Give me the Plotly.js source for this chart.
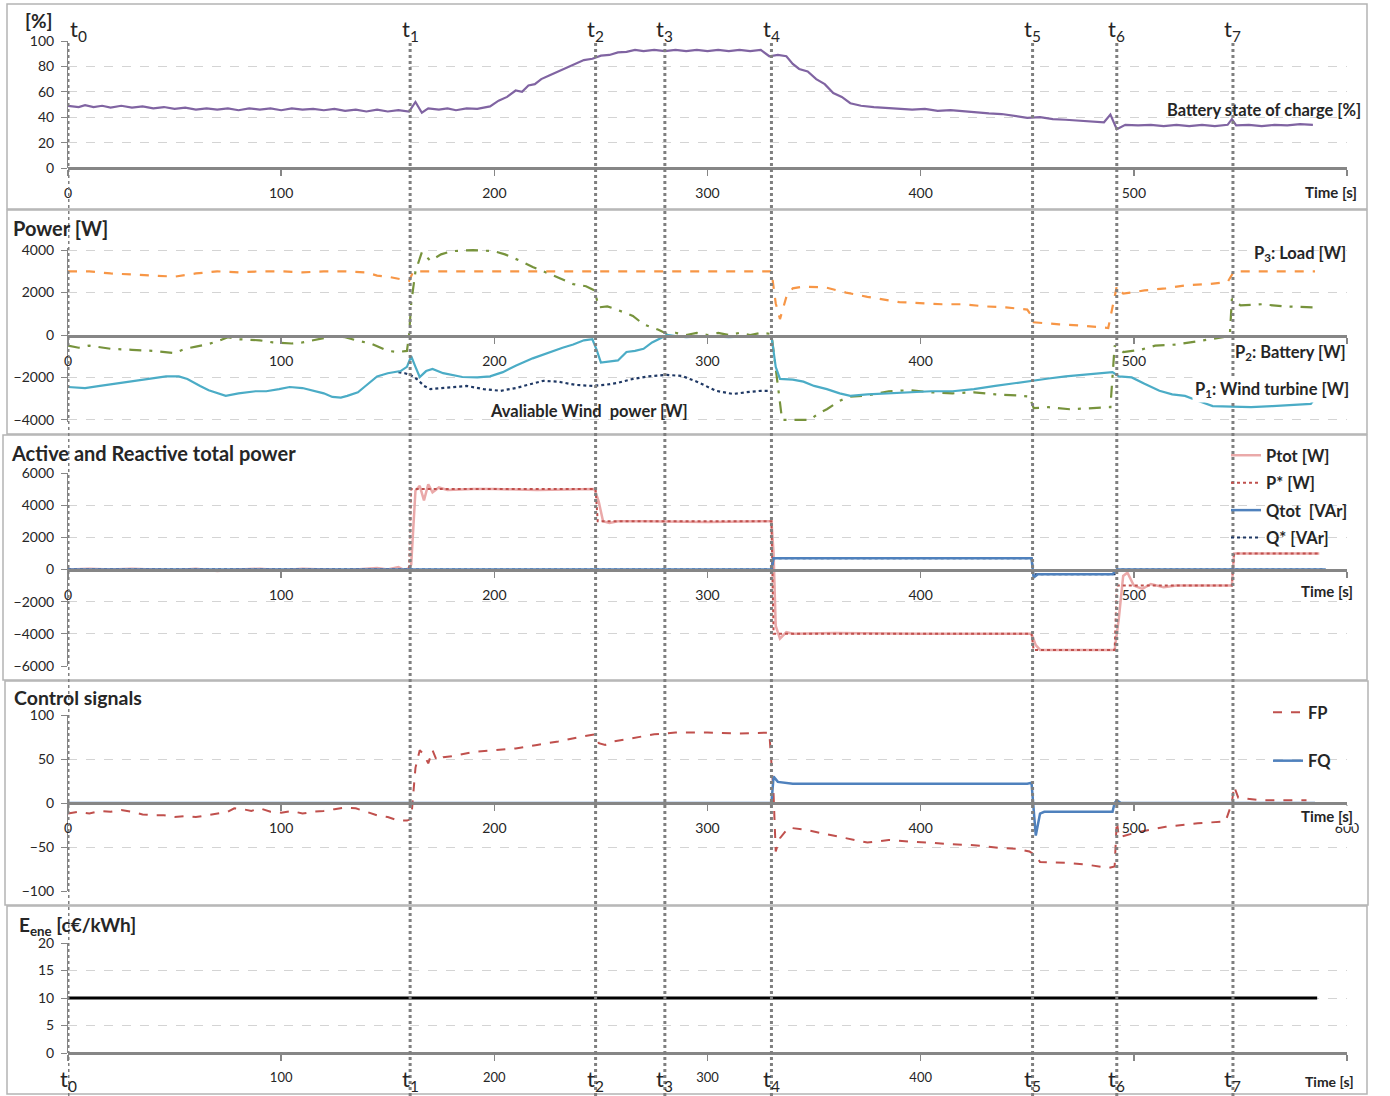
<!DOCTYPE html>
<html><head><meta charset="utf-8">
<script src="https://cdn.plot.ly/plotly-3.0.1.min.js"></script>
<style>body{margin:0;background:#fff}#chart{width:1390px;height:1096px}</style>
</head><body><div id="chart"></div>
<script>
// ---------- data ----------
const eventTimes = [0, 160.5, 247.5, 280, 330, 452.5, 492, 546.5];
const eventLabels = ['t<sub>0</sub>','t<sub>1</sub>','t<sub>2</sub>','t<sub>3</sub>','t<sub>4</sub>','t<sub>5</sub>','t<sub>6</sub>','t<sub>7</sub>'];

const socT = [0,5,8,12,16,20,25,30,35,40,45,50,55,60,65,70,75,80,85,90,95,100,105,110,115,120,125,130,135,140,145,150,155,160,163,166,169,174,178,182,187,192,198,202,206,210,213,216,219,222,226,230,234,238,242,246,250,254,258,262,266,270,275,280,285,290,295,300,305,310,315,320,325,329,333,337,340,343,347,351,355,359,363,367,372,378,384,390,396,402,408,414,420,426,432,438,444,450,456,462,468,474,480,486,489,492,496,502,508,514,520,526,532,538,544,546,548,554,560,566,572,578,584];
const socV = [49,48,49.5,48,49,47.5,49,47.5,48.5,47,48,46.5,47.5,46,47,46,47,45.5,47,46,47,45.5,47,46,46.5,45.5,46.5,45,46,44.5,46,44.5,45.5,44.5,52,43.5,47,46,47,45.5,47,46.5,48.5,53,56,61,60,65,66,70,73,76,79,82,85,86,88.5,89,91,91.5,93,92,93,92,93,92,93,92,93,92,93,92,93,88,89,88,82,78,76,70,66,59,56,51,49,48,47.5,47,46,46.5,45,45.5,44.5,44,43,42.5,41,39.5,40,38.5,38,37.5,37,36,42,30.5,34,33.5,34,33,34,33,34,33,34,38.5,33.5,34,33,34,33.5,34.5,34];

const loadT = [0,10,20,30,40,50,60,70,80,90,100,110,120,130,140,145,150,155,160,162,200,250,300,330,332,334,337,340,345,355,365,375,390,400,410,420,430,440,450,452,453,465,475,488,492,495,505,515,525,535,544,547,585];
const loadV = [3000,3000,2900,2850,2800,2750,2900,3000,2950,3000,3000,2950,3000,3000,2950,2800,2750,2650,2550,3000,3000,3000,3000,3000,1500,750,1800,2200,2280,2250,2000,1800,1550,1500,1450,1450,1350,1300,1200,900,600,500,450,330,2300,1950,2100,2200,2350,2400,2500,3000,3000];

const batT = [0,5,10,20,30,40,50,55,60,65,70,75,80,90,96,105,110,118,125,130,135,142,150,155,159,160,161,163,166,170,175,180,190,200,205,212,218,223,230,237,243,247,249,253,256,260,265,270,273,277,281,285,290,295,300,305,310,315,320,325,330,333,335,348,352,356,362,367,375,385,395,405,415,425,435,445,451,453,460,470,480,489,491,495,503,510,520,530,540,545,546,550,560,570,585];
const batV = [-500,-600,-500,-650,-700,-750,-850,-650,-550,-450,-300,-100,-200,-250,-350,-400,-350,-200,-50,-100,-250,-400,-750,-800,-750,0,1500,3000,3900,3500,3800,3950,4000,3950,3800,3500,3200,3000,2700,2400,2300,2100,1300,1350,1250,1100,900,500,380,250,50,100,0,100,0,100,0,100,0,100,50,-2500,-4000,-4000,-3700,-3500,-3100,-2900,-2850,-2650,-2600,-2700,-2750,-2700,-2800,-2850,-2900,-3450,-3400,-3500,-3450,-3400,-500,-800,-700,-500,-450,-280,-100,-50,1700,1400,1450,1350,1300];

const windT = [0,8,15,22,30,38,46,52,56,62,66,74,80,88,93,99,104,110,115,120,124,128,131,136,139,142,145,150,156,159,161,163,165,168,171,176,185,192,198,204,210,218,226,232,237,242,246,248,250,255,258,262,266,270,274,278,281,285,290,300,310,320,330,332,334,340,345,350,356,362,367,375,385,395,405,415,425,435,445,452,460,468,478,490,493,499,505,512,518,524,530,537,546,555,565,575,583,585];
const windV = [-2450,-2500,-2400,-2300,-2150,-2050,-1950,-1950,-2070,-2400,-2600,-2870,-2750,-2650,-2650,-2550,-2450,-2500,-2630,-2750,-2920,-2950,-2870,-2700,-2450,-2200,-1950,-1800,-1700,-1500,-1000,-1500,-1980,-1700,-1600,-1800,-1980,-2000,-1950,-1750,-1450,-1100,-800,-600,-450,-250,-200,-700,-1300,-1250,-1200,-800,-750,-650,-350,-150,0,-50,-100,-50,-100,-50,-50,-1500,-2070,-2100,-2200,-2400,-2550,-2750,-2870,-2800,-2750,-2700,-2650,-2650,-2550,-2400,-2250,-2150,-2050,-1950,-1850,-1750,-1950,-2000,-2300,-2630,-2800,-2870,-3100,-3350,-3380,-3400,-3350,-3300,-3250,-3000];

const availWindT = [155,158,161,164,167,170,175,180,187,195,203,210,217,223,230,238,246,252,258,265,272,281,288,295,304,312,318,325,330];
const availWindV = [-1750,-1800,-1900,-2100,-2400,-2550,-2500,-2450,-2400,-2550,-2630,-2500,-2300,-2160,-2200,-2350,-2400,-2350,-2250,-2070,-1950,-1880,-1930,-2200,-2630,-2780,-2700,-2630,-2630];

const pStarT = [0,160,161,247.5,248.5,330,331,452,453,491,492,546,547,587];
const pStarV = [0,0,5000,5000,3000,3000,-4000,-4000,-5000,-5000,-1000,-1000,1000,1000];

const pTotT = [0,10,20,30,40,50,60,70,80,90,100,110,120,130,140,145,150,155,158,160,161,162,163,165,167,169,171,174,178,190,200,220,247,249,251,254,258,270,300,330,331,332,334,337,340,360,400,452,454,456,470,491,493,495,497,500,504,508,514,520,546,547,587];
const pTotV = [0,50,0,50,0,-50,50,-100,0,50,-50,50,0,-50,50,100,0,150,-50,100,300,3000,4900,5200,4300,5300,4800,5100,4950,5000,5000,4950,5000,4200,3000,2900,3000,3000,2950,3000,1000,-3500,-4300,-3900,-4000,-3950,-4000,-4000,-4700,-5000,-5000,-5000,-3000,-400,-200,-1000,-1200,-900,-1100,-1000,-1000,1000,1000];

const qTotT = [0,330,331,452,453,455,490,492,590];
const qTotV = [0,0,700,700,-500,-300,-300,0,0];

const qStarT = [0,330,331,452,453,491,492,590];
const qStarV = [0,0,700,700,-300,-300,0,0];

const fpT = [0,5,10,15,20,25,30,35,40,45,50,55,60,65,70,75,78,82,86,90,95,100,105,110,115,120,125,130,135,140,145,150,155,159,161,163,165,167,169,171,173,176,180,190,200,210,220,230,240,247,249,252,256,265,275,285,300,315,329,331,332,334,338,345,355,365,375,385,395,405,415,425,437,445,451,454,456,468,478,488,491,492,493,502,515,530,543,546,547,549,560,570,581];
const fpV = [-12,-10,-12,-9,-10,-8,-10,-13,-14,-14,-16,-15,-16,-14,-12,-10,-6,-7,-9,-6,-10,-11,-9,-12,-10,-9,-7,-5,-6,-10,-14,-16,-20,-20,-18,40,60,55,45,60,48,52,53,58,60,62,66,70,75,78,68,66,70,74,78,80,80,79,80,10,-55,-40,-28,-30,-35,-40,-45,-42,-44,-45,-47,-48,-51,-52,-55,-60,-67,-68,-70,-74,-72,-20,-39,-33,-27,-23,-21,0,19,6,3,3,3];

const fqT = [0,330,331,333,340,450,452,453,454,456,458,490,491,492,494,585];
const fqV = [0,0,30,24,22,22,23,-10,-37,-12,-10,-10,0,3,0,0];

const priceT = [0,586];
const priceV = [10,10];

const xTicks = [0,100,200,300,400,500,600];

// ---------- layout helpers ----------
const W = 1390, H = 1096;
const px = v => v / W;
const py = v => 1 - v / H;
const FONT = 'Lato, "Open Sans", sans-serif';
const AX = '#868686';
const xDom = [px(68), px(1347)];

function xAxis(pos, labels, size){
  return {domain:xDom, range:[0,600], anchor:'free', position:pos, showgrid:false, zeroline:false,
    showline:true, linecolor:AX, linewidth:3, ticks:'outside', ticklen:6, tickwidth:1.5, tickcolor:AX,
    tickmode:'array', tickvals:xTicks, ticktext:labels, ticklabelstandoff:5,
    tickfont:{family:FONT, size:size||14, color:'#262626'}, fixedrange:true};
}
function yAxis(anchor, dom, range, vals){
  return {anchor:anchor, domain:dom, range:range, tickmode:'array', tickvals:vals,
    showgrid:true, gridcolor:'#d4d4d4', griddash:'dash', gridwidth:1, zeroline:false,
    showline:true, linecolor:AX, linewidth:1, ticks:'outside', ticklen:6, tickcolor:AX,
    ticklabelstandoff:4, tickfont:{family:FONT, size:14, color:'#262626'}, fixedrange:true};
}

const traces = [
  {x:socT, y:socV, xaxis:'x', yaxis:'y', mode:'lines', line:{color:'#8064a2', width:2.2}, showlegend:false},

  {x:availWindT, y:availWindV, xaxis:'x2', yaxis:'y2', mode:'lines', line:{color:'#1f3864', width:2.2, dash:'dot'}, showlegend:false},
  {x:batT, y:batV, xaxis:'x2', yaxis:'y2', mode:'lines', line:{color:'#77933c', width:2.2, dash:'12px,8px,3px,8px'}, showlegend:false},
  {x:loadT, y:loadV, xaxis:'x2', yaxis:'y2', mode:'lines', line:{color:'#f79646', width:2.2, dash:'dash'}, showlegend:false},
  {x:windT, y:windV, xaxis:'x2', yaxis:'y2', mode:'lines', line:{color:'#4bacc6', width:2.2}, showlegend:false},

  {name:'Ptot [W]', x:pTotT, y:pTotV, xaxis:'x3', yaxis:'y3', mode:'lines', line:{color:'#eaa9a9', width:2.5}, legend:'legend', legendgroup:'a', legendrank:1},
  {name:'P* [W]', x:pStarT, y:pStarV, xaxis:'x3', yaxis:'y3', mode:'lines', line:{color:'#c0504d', width:2, dash:'dot'}, legend:'legend', legendgroup:'b', legendrank:2},
  {name:'Q* [VAr]', x:qStarT, y:qStarV, xaxis:'x3', yaxis:'y3', mode:'lines', line:{color:'#1f3864', width:2, dash:'dot'}, legend:'legend', legendgroup:'d', legendrank:4},
  {name:'Qtot  [VAr]', x:qTotT, y:qTotV, xaxis:'x3', yaxis:'y3', mode:'lines', line:{color:'#4f81bd', width:2.5}, legend:'legend', legendgroup:'c', legendrank:3},

  {name:'FP', x:fpT, y:fpV, xaxis:'x4', yaxis:'y4', mode:'lines', line:{color:'#c0504d', width:2, dash:'dash'}, legend:'legend2', legendgroup:'fp', legendrank:1},
  {name:'FQ', x:fqT, y:fqV, xaxis:'x4', yaxis:'y4', mode:'lines', line:{color:'#4f81bd', width:2.5}, legend:'legend2', legendgroup:'fq', legendrank:2},

  {x:priceT, y:priceV, xaxis:'x5', yaxis:'y5', mode:'lines', line:{color:'#000000', width:3}, showlegend:false}
];

// panel frames
const frames = [[7,4,1367,209],[7,210,1367,434],[3,435,1367,680],[5,681,1368,905],[7,906,1367,1094]];
const shapes = frames.map(f => ({type:'rect', xref:'paper', yref:'paper', x0:px(f[0]), x1:px(f[2]), y0:py(f[3]), y1:py(f[1]),
  line:{color:'#b4b4b4', width:1.5}, fillcolor:'rgba(0,0,0,0)', layer:'below'}));
eventTimes.forEach(t => shapes.push({type:'line', xref:'x', yref:'paper', x0:t, x1:t, y0:0, y1:py(40),
  line:{color:'#7f7f7f', width:3, dash:'dot'}, layer:'above'}));

function ann(text, x, y, size, opts){
  return Object.assign({text:text, xref:'paper', yref:'paper', x:px(x), y:py(y), showarrow:false,
    xanchor:'center', yanchor:'middle', font:{family:FONT, size:size, color:'#262626'}}, opts||{});
}
const annotations = [
  ann('<b>[%]</b>', 38, 20, 19),
  ann('<b>Power [W]</b>', 60, 228, 20),
  ann('<b>Active and Reactive total power</b>', 153, 453, 20),
  ann('<b>Control signals</b>', 78, 697, 19.5),
  ann('<b>E<sub>ene</sub> [c€/kWh]</b>', 17, 926, 19, {xanchor:'left'}),
  ann('<b>Battery state of charge [%]</b>', 1264, 110, 16.5),
  ann('<b>Time [s]</b>', 1331, 192, 15),
  ann('<b>Time [s]</b>', 1327, 591, 15),
  ann('<b>Time [s]</b>', 1327, 816, 15, {bgcolor:'#ffffff'}),
  ann('<b>Time [s]</b>', 1329, 1081, 14),
  ann('<b>P<sub>3</sub>: Load [W]</b>', 1300, 254, 16.5),
  ann('<b>P<sub>2</sub>: Battery [W]</b>', 1290, 352, 16.5),
  ann('<b>P<sub>1</sub>: Wind turbine [W]</b>', 1272, 389, 16.5, {bgcolor:'#ffffff', borderpad:2}),
  ann('<b>Avaliable Wind  power [W]</b>', 589, 411, 16.5)
];
eventTimes.forEach((t,i) => {
  annotations.push({text:eventLabels[i], xref:'x', yref:'paper', x:t, y:py(30), showarrow:false,
    xanchor:'center', yanchor:'middle', xshift:(i===0?10:0), font:{family:FONT, size:22, color:'#262626'}});
  annotations.push({text:eventLabels[i], xref:'x5', yref:'paper', x:t, y:py(1080), showarrow:false,
    xanchor:'center', yanchor:'middle', font:{family:FONT, size:22, color:'#262626'}});
});

const lab06 = ['0','100','200','300','400','500',''];
const layout = {
  width:W, height:H, margin:{l:0, r:0, t:0, b:0}, paper_bgcolor:'#ffffff', plot_bgcolor:'rgba(0,0,0,0)',
  font:{family:FONT, color:'#262626'},
  xaxis: xAxis(py(168), lab06),
  xaxis2: xAxis(py(336), lab06),
  xaxis3: xAxis(py(570), lab06),
  xaxis4: xAxis(py(803), ['0','100','200','300','400','500','600']),
  xaxis5: xAxis(py(1053), ['','100','200','300','400','',''], 13),
  yaxis: yAxis('x', [py(168), py(41)], [0,100], [0,20,40,60,80,100]),
  yaxis2: yAxis('x2', [py(422), py(248)], [-4100,4100], [-4000,-2000,0,2000,4000]),
  yaxis3: yAxis('x3', [py(666), py(473)], [-6000,6000], [-6000,-4000,-2000,0,2000,4000,6000]),
  yaxis4: yAxis('x4', [py(891), py(715)], [-100,100], [-100,-50,0,50,100]),
  yaxis5: yAxis('x5', [py(1053), py(943)], [0,20], [0,5,10,15,20]),
  legend: {x:px(1226), y:py(438), xanchor:'left', yanchor:'top', bgcolor:'rgba(0,0,0,0)', tracegroupgap:3,
    font:{family:FONT, size:16.5, color:'#262626', weight:'bold'}, itemwidth:30},
  legend2: {x:px(1268), y:py(695), xanchor:'left', yanchor:'top', bgcolor:'rgba(0,0,0,0)', tracegroupgap:24,
    font:{family:FONT, size:16.5, color:'#262626', weight:'bold'}, itemwidth:30},
  shapes: shapes,
  annotations: annotations,
  hovermode:false
};
Plotly.newPlot('chart', traces, layout, {staticPlot:true, displayModeBar:false});
</script>
</body></html>
